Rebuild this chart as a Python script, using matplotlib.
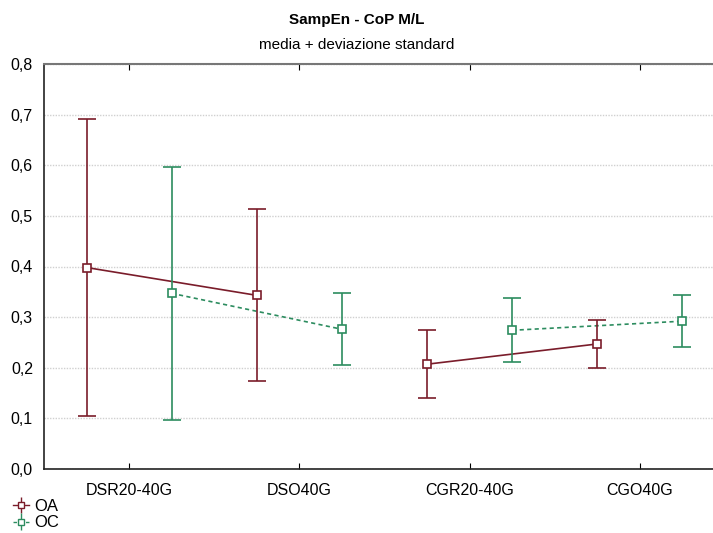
import numpy as np
import matplotlib.pyplot as plt
from matplotlib.ticker import FuncFormatter

plt.rcParams['font.family'] = ['Liberation Sans', 'DejaVu Sans']

# Conditions on the x axis
conditions = ['DSR20-40G', 'DSO40G', 'CGR20-40G', 'CGO40G']

# Mean and standard deviation per group
oa_mean = [0.398, 0.343, 0.207, 0.247]
oa_sd = [0.293, 0.170, 0.067, 0.048]
oc_mean = [0.347, 0.276, 0.274, 0.292]
oc_sd = [0.250, 0.071, 0.063, 0.051]

OA_COLOR = '#7a1c2a'
OC_COLOR = '#2c8c5f'

fig = plt.figure(figsize=(7.13, 5.33), dpi=100)
ax = fig.add_axes([44 / 713, 64 / 533, 681 / 713, 405 / 533])

x = np.arange(len(conditions))
offset = 0.25

series = [
    ('OA', oa_mean, oa_sd, OA_COLOR, '-', -offset),
    ('OC', oc_mean, oc_sd, OC_COLOR, (0, (2.5, 2)), offset),
]

for label, mean, sd, color, ls, dx in series:
    xs = x + dx
    # error bars with caps
    ax.errorbar(xs, mean, yerr=sd, fmt='none', ecolor=color,
                elinewidth=1.2, capsize=6.5, capthick=1.2, zorder=3)
    # lines only within each pair of conditions (DS group, CG group)
    for i in (0, 2):
        ax.plot(xs[i:i + 2], mean[i:i + 2], color=color, linestyle=ls,
                linewidth=1.2, zorder=2)
    ax.plot(xs, mean, linestyle='none', marker='s', markersize=5.8,
            markerfacecolor='white', markeredgecolor=color,
            markeredgewidth=1.2, zorder=4)
    # legend handle
    ax.errorbar([], [], yerr=[], color=color, marker='s', markersize=5,
                markerfacecolor='white', linestyle=ls, capsize=3,
                linewidth=1, label=label)

ax.set_xlim(-0.5, 3.5)
ax.set_ylim(0.0, 0.8)
ax.set_xticks(x)
ax.set_xticklabels(conditions, fontsize=11.5)
ax.set_yticks(np.arange(0, 0.81, 0.1))
ax.yaxis.set_major_formatter(FuncFormatter(lambda v, p: f'{v:.1f}'.replace('.', ',')))
ax.tick_params(axis='y', labelsize=11.5, direction='in', length=0, pad=8)
ax.tick_params(axis='x', direction='in', length=4, pad=10, top=True)

ax.yaxis.grid(True, linestyle=(0, (1, 1)), color='#d0d0d0', linewidth=1)
ax.set_axisbelow(True)

for side in ('left', 'bottom'):
    ax.spines[side].set_color('#222222')
    ax.spines[side].set_linewidth(1.2)
ax.spines['top'].set_color('#777777')
ax.spines['top'].set_linewidth(1.5)
ax.spines['right'].set_visible(False)

fig.text(0.5, 1 - 20 / 533, 'SampEn - CoP M/L', ha='center', va='center',
         fontsize=11, fontweight='bold')
fig.text(0.5, 1 - 45 / 533, 'media + deviazione standard', ha='center',
         va='center', fontsize=11)

fig.legend(loc='lower left', bbox_to_anchor=(6 / 713, -4 / 533),
           frameon=False, fontsize=12, handlelength=1.0, handletextpad=0.3,
           labelspacing=0.1, borderaxespad=0)

fig.savefig('out.png', dpi=100)
